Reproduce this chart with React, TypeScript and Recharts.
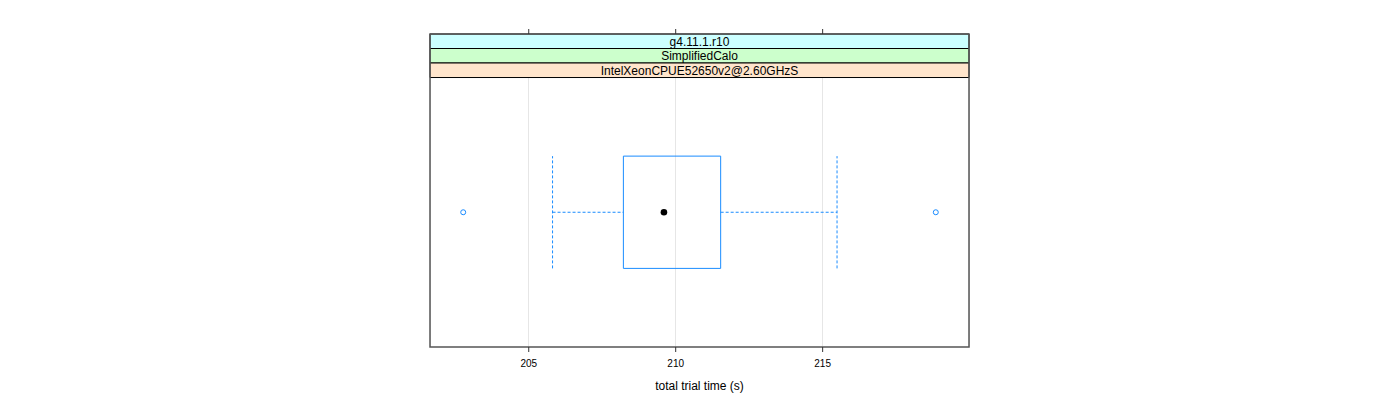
import React from "react";
import {
  ComposedChart,
  XAxis,
  YAxis,
  CartesianGrid,
  ReferenceArea,
  ReferenceLine,
  Scatter,
} from "recharts";

// ---- data ----
const stripLabels = ["g4.11.1.r10", "SimplifiedCalo", "IntelXeonCPUE52650v2@2.60GHzS"];
const stripColors = ["#CCFFFF", "#CCFFCC", "#FFE5CC"];
const xTicks = [205, 210, 215];
const xDomain = [201.64, 219.98];
const whiskerLow = 205.81;
const q1 = 208.22;
const median = 209.6;
const q3 = 211.53;
const whiskerHigh = 215.49;
const outliers = [202.77, 218.85];

// ---- layout constants ----
const CAT = 1; // the single category position
const HALF_BOX = 0.25;
const Y_MIN = 0.4;
const Y_PLOT_MAX = 1.6;
const STRIP_H = 0.0646;
const Y_MAX = Y_PLOT_MAX + STRIP_H * stripLabels.length;
const BLUE = "#1a8cff";

const medianData = [{ x: median, y: CAT }];
const outlierData = outliers.map((v) => ({ x: v, y: CAT }));

const OpenCircle = (props: any) => (
  <circle cx={props.cx} cy={props.cy} r={2.5} fill="none" stroke={BLUE} strokeWidth={1} />
);
const FilledDot = (props: any) => (
  <circle cx={props.cx} cy={props.cy} r={3.3} fill="#000" stroke="none" />
);

export default function App() {
  return (
    <div style={{ width: 1400, height: 400, fontFamily: "'Liberation Sans', Arial, sans-serif" }}>
      <style>{`body{margin:0} .recharts-cartesian-grid line{shape-rendering:crispEdges}`}</style>
      <ComposedChart
        width={1400}
        height={400}
        margin={{ top: 29, right: 431, bottom: 0, left: 430 }}
      >
        <CartesianGrid horizontal={false} vertical={true} stroke="#e6e6e6" />
        <XAxis
          xAxisId={0}
          dataKey="x"
          type="number"
          domain={xDomain}
          ticks={xTicks}
          allowDataOverflow
          axisLine={false}
          tickSize={5}
          tickMargin={8}
          tickLine={{ stroke: "#333" }}
          tick={{ fill: "#000", fontSize: 10 }}
          height={53}
          label={{ value: "total trial time (s)", position: "insideBottom", offset: 10, fill: "#000", fontSize: 12 }}
        />
        <XAxis
          xAxisId="top"
          orientation="top"
          dataKey="x"
          type="number"
          domain={xDomain}
          ticks={xTicks}
          allowDataOverflow
          axisLine={false}
          tickSize={5}
          tickLine={{ stroke: "#333" }}
          tickFormatter={() => ""}
          height={5}
        />
        <YAxis yAxisId={0} type="number" dataKey="y" domain={[Y_MIN, Y_MAX]} hide allowDataOverflow />

        {/* strips */}
        {stripLabels.map((lab, i) => (
          <ReferenceArea
            key={lab}
            x1={xDomain[0]}
            x2={xDomain[1]}
            y1={Y_MAX - STRIP_H * (i + 1)}
            y2={Y_MAX - STRIP_H * i}
            fill={stripColors[i]}
            fillOpacity={1}
            stroke="#000"
            strokeWidth={1}
            label={{ value: lab, position: "center", fill: "#000", fontSize: 12 }}
          />
        ))}

        {/* panel border */}
        <ReferenceArea
          x1={xDomain[0]}
          x2={xDomain[1]}
          y1={Y_MIN}
          y2={Y_MAX}
          fill="none"
          fillOpacity={0}
          stroke="#555"
          strokeWidth={1.5}
        />

        {/* whiskers */}
        <ReferenceLine
          segment={[{ x: whiskerLow, y: CAT }, { x: q1, y: CAT }]}
          stroke={BLUE}
          strokeDasharray="3 2"
        />
        <ReferenceLine
          segment={[{ x: q3, y: CAT }, { x: whiskerHigh, y: CAT }]}
          stroke={BLUE}
          strokeDasharray="3 2"
        />
        <ReferenceLine
          segment={[{ x: whiskerLow, y: CAT - HALF_BOX }, { x: whiskerLow, y: CAT + HALF_BOX }]}
          stroke={BLUE}
          strokeDasharray="3 2"
        />
        <ReferenceLine
          segment={[{ x: whiskerHigh, y: CAT - HALF_BOX }, { x: whiskerHigh, y: CAT + HALF_BOX }]}
          stroke={BLUE}
          strokeDasharray="3 2"
        />

        {/* box */}
        <ReferenceArea
          x1={q1}
          x2={q3}
          y1={CAT - HALF_BOX}
          y2={CAT + HALF_BOX}
          fill="none"
          fillOpacity={0}
          stroke={BLUE}
          strokeWidth={1}
        />

        <Scatter data={outlierData} dataKey="y" shape={OpenCircle} isAnimationActive={false} />
        <Scatter data={medianData} dataKey="y" shape={FilledDot} isAnimationActive={false} />
      </ComposedChart>
    </div>
  );
}
